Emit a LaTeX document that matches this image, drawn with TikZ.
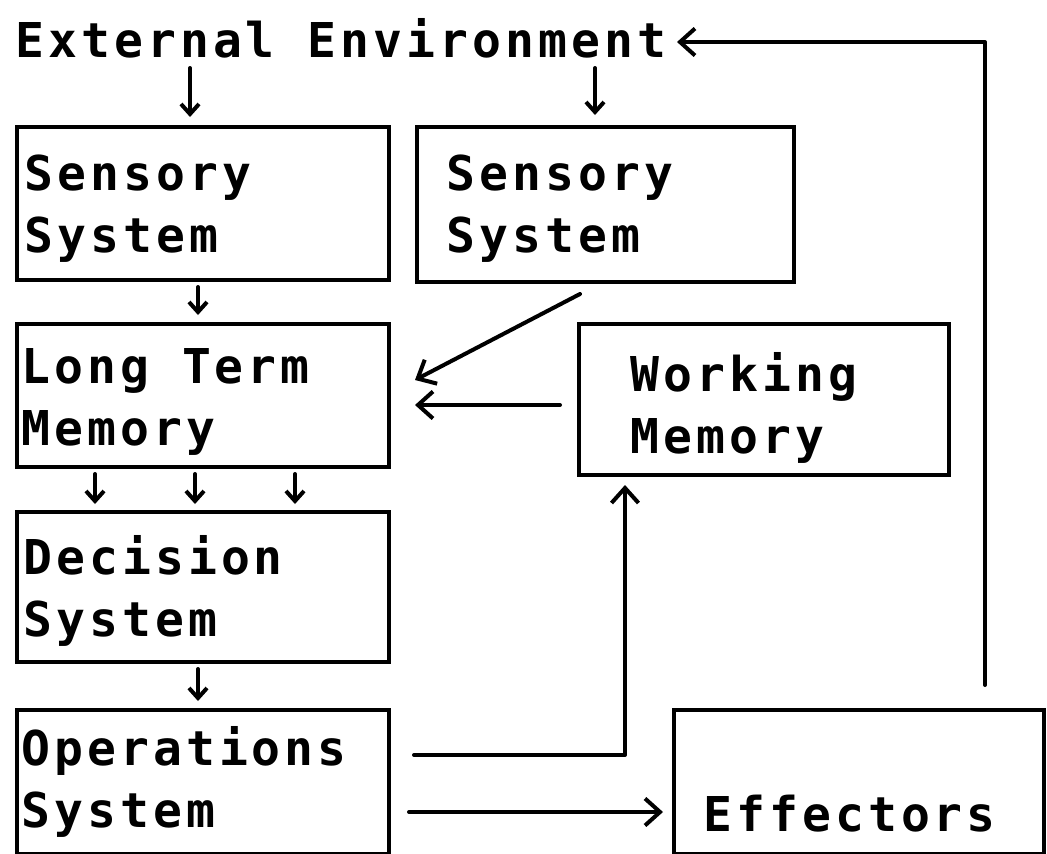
\documentclass[tikz,border=0pt]{standalone}
\usepackage{fontspec}
\newfontfamily\plotfont{DejaVu Sans Mono}[LetterSpace=8.5]
\usetikzlibrary{arrows.meta,calc}
\tikzset{
  box/.style={draw, line width=4pt, inner sep=0pt, anchor=north west},
  txt/.style={inner sep=0pt, anchor=north west, align=left, font=\plotfont\bfseries\fontsize{48}{62}\selectfont},
  conn/.style={line width=4pt, line cap=round, line join=round},
  arr/.style={conn, -{Straight Barb[length=10pt,width=18pt,line width=4pt]}},
  bigarr/.style={conn, -{Straight Barb[length=15pt,width=27pt,line width=4pt]}}
}
\begin{document}
\begin{tikzpicture}[x=1pt,y=-1pt]
\useasboundingbox (0,0) rectangle (1047,854);
% boxes
\node[box, minimum width=372pt, minimum height=153pt] (ss1) at (15,125) {};
\node[box, minimum width=377pt, minimum height=155pt] (ss2) at (415,125) {};
\node[box, minimum width=372pt, minimum height=143pt] (ltm) at (15,322) {};
\node[box, minimum width=370pt, minimum height=151pt] (wm) at (577,322) {};
\node[box, minimum width=372pt, minimum height=150pt] (dec) at (15,510) {};
\node[box, minimum width=372pt, minimum height=144pt] (ops) at (15,708) {};
\node[box, minimum width=370pt, minimum height=144pt] (eff) at (672,708) {};
% texts (first baseline = y + 43.4)
\node[txt] (title) at (15,13.6) {\strut External Environment};
\node[txt] (tss1) at (24,146.6) {\strut Sensory\\System};
\node[txt] (tss2) at (446,146.6) {\strut Sensory\\System};
\node[txt] (tltm) at (21,339.6) {\strut Long Term\\Memory};
\node[txt] (twm) at (630,347.6) {\strut Working\\Memory};
\node[txt] (tdec) at (23,530.6) {\strut Decision\\System};
\node[txt] (tops) at (21,721.6) {\strut Operations\\System};
\node[txt] (teff) at (703,725.6) {\strut\\Effectors};
% connectors
\draw[arr] ($(ss1.north west)+(175,-57)$) -- ($(ss1.north west)+(175,-8)$);
\draw[arr] ($(ss2.north west)+(180,-57)$) -- ($(ss2.north west)+(180,-10)$);
\draw[arr] ($(ss1.south west)+(183,5)$) -- ($(ltm.north west)+(183,-7)$);
\draw[bigarr] ($(ss2.south west)+(165,10)$) -- ($(ltm.north east)+(24,58)$);
\draw[bigarr] ($(wm.north west)+(-17,83)$) -- ($(ltm.north east)+(24,83)$);
\draw[arr] ($(ltm.south west)+(80,5)$) -- ($(dec.north west)+(80,-6)$);
\draw[arr] ($(ltm.south west)+(180,5)$) -- ($(dec.north west)+(180,-6)$);
\draw[arr] ($(ltm.south west)+(280,5)$) -- ($(dec.north west)+(280,-6)$);
\draw[arr] ($(dec.south west)+(183,5)$) -- ($(ops.north west)+(183,-7)$);
\draw[bigarr] ($(ops.north east)+(23,47)$) -| ($(wm.south west)+(48,8)$);
\draw[bigarr] ($(ops.north east)+(18,104)$) -- ($(eff.north west)+(-9,104)$);
\coordinate (fb) at ($(eff.north west)+(313,-23)$);
\draw[bigarr] (fb) |- ($(title.north west)+(662,28.4)$);
\end{tikzpicture}
\end{document}
